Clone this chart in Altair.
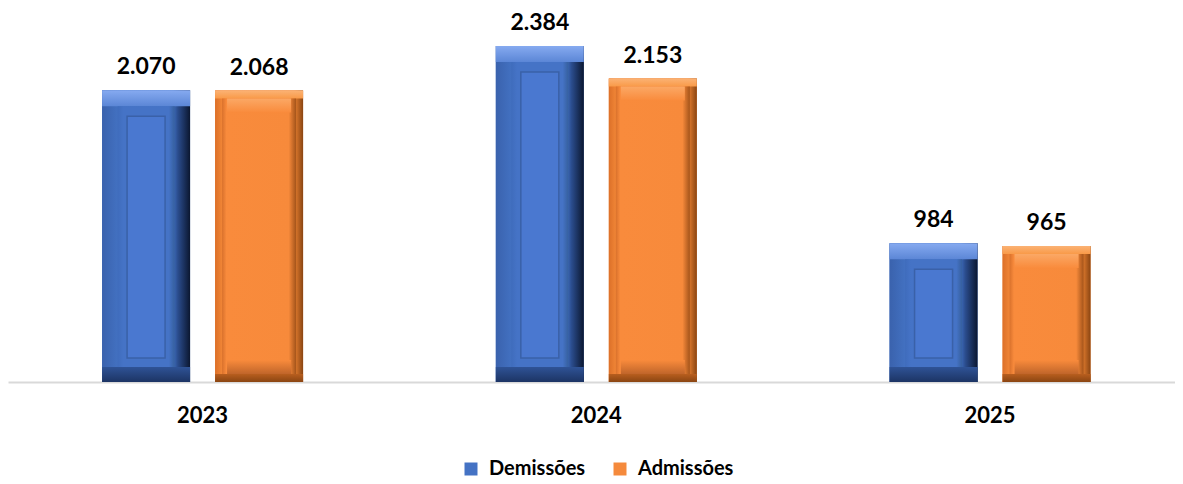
import altair as alt
import pandas as pd

anos = ["2023", "2024", "2025"]
series = ["Demissões", "Admissões"]
demissoes = [2070, 2384, 984]
admissoes = [2068, 2153, 965]

rows = []
for ano, d, a in zip(anos, demissoes, admissoes):
    rows.append({"ano": ano, "serie": series[0], "valor": d})
    rows.append({"ano": ano, "serie": series[1], "valor": a})
df = pd.DataFrame(rows)
df["zero"] = 0
df["rotulo"] = df["valor"].map(lambda v: f"{v:,}".replace(",", "."))

FONT = "Lato"


def grad(stops, vertical=False):
    return alt.LinearGradient(
        gradient="linear",
        stops=[alt.GradientStop(color=c, offset=o) for o, c in stops],
        x1=0, y1=0, x2=0 if vertical else 1, y2=1 if vertical else 0,
    )


X = alt.X(
    "ano:N",
    sort=anos,
    title=None,
    scale=alt.Scale(paddingInner=0.4895, paddingOuter=0.2267, align=0.527),
    axis=alt.Axis(
        labelAngle=0, ticks=False, tickSize=0, labelPadding=33,
        labelBaseline="middle", labelFont=FONT, labelFontSize=22,
        labelFontWeight="bold", labelColor="#000000",
        domainColor="#d9d9d9", domainWidth=2, grid=False,
    ),
)
XO = alt.XOffset("serie:N", sort=series,
                 scale=alt.Scale(domain=series, paddingInner=0.2212, paddingOuter=0))
YSC = alt.Scale(domain=[0, 2654], nice=False, zero=True)
Y = alt.Y("valor:Q", scale=YSC, axis=None)
Y0 = alt.Y("zero:Q", scale=YSC, axis=None)

base = alt.Chart(df)

layers = []
# base layer carrying the legend
layers.append(
    base.mark_bar().encode(
        x=X, xOffset=XO, y=Y, y2=alt.Y2("zero"),
        color=alt.Color(
            "serie:N",
            scale=alt.Scale(domain=series, range=["#4472C4", "#F58A3C"]),
            legend=alt.Legend(
                title=None, orient="none", legendX=453, legendY=451,
                direction="horizontal", symbolType="square", symbolSize=169,
                symbolStrokeWidth=0, labelFont=FONT, labelFontSize=20,
                labelFontWeight="bold", labelColor="#000000", labelOffset=8,
                columnPadding=24,
            ),
        ),
    )
)


def lay(serie, kind="full", **mk):
    c = base.transform_filter(alt.datum.serie == serie).mark_bar(**mk)
    if kind == "top":
        return c.encode(x=X, xOffset=XO, y=Y, y2=alt.Y2("valor"))
    if kind == "bottom":
        return c.encode(x=X, xOffset=XO, y=Y0, y2=alt.Y2("zero"))
    return c.encode(x=X, xOffset=XO, y=Y, y2=alt.Y2("zero"))


D, A = series
# ---- Demissões (blue) bevel ----
layers.append(lay(D, color=grad([(0, "#3a62ad"), (0.17, "#4270c0"), (0.8, "#4070c2"),
                                 (0.86, "#2b4d8e"), (1, "#0b1730")])))
layers.append(lay(D, "top", y2Offset=16,
                  color=grad([(0, "#86aaf0"), (1, "#5b86d6")], vertical=True)))
layers.append(lay(D, "bottom", yOffset=-15,
                  color=grad([(0, "#2f5396"), (1, "#1c3464")], vertical=True)))
layers.append(lay(D, width=57, xOffset=0.5, yOffset=16, y2Offset=-15,
                  color=grad([(0, "#3f6cbc"), (0.1, "#4573c6"), (0.9, "#4573c6"),
                              (1, "#36609f")])))
layers.append(lay(D, width=38, yOffset=26, y2Offset=-24, color="#4a78d0",
                  stroke="#3a61a8", strokeWidth=1.5))

# ---- Admissões (orange) bevel ----
layers.append(lay(A, color=grad([(0, "#dc7029"), (0.08, "#f08536"), (0.9, "#e88031"),
                                 (1, "#8a4512")])))
layers.append(lay(A, "top", y2Offset=8,
                  color=grad([(0, "#fbb274"), (1, "#f99a48")], vertical=True)))
layers.append(lay(A, "bottom", yOffset=-8,
                  color=grad([(0, "#b85e1e"), (1, "#8a4512")], vertical=True)))
layers.append(lay(A, width=74, yOffset=8, y2Offset=-8,
                  color=grad([(0, "#d9712c"), (0.06, "#f98b3c"), (0.9, "#f78a3b"),
                              (1, "#a4541a")])))
layers.append(lay(A, "top", width=64, yOffset=8, y2Offset=22,
                  color=grad([(0, "#fba865"), (1, "#f98b3c")], vertical=True)))
layers.append(lay(A, "bottom", width=64, yOffset=-22, y2Offset=-8,
                  color=grad([(0, "#f98b3c"), (1, "#c0652a")], vertical=True)))

# value labels
layers.append(
    base.mark_text(font=FONT, fontSize=23, fontWeight="bold", color="#000000",
                   baseline="alphabetic", dy=-16).encode(
        x=X, xOffset=XO, y=Y, text="rotulo:N")
)

chart = alt.layer(*layers).properties(
    width=1167, height=374, padding=0, background="white"
).configure_view(stroke=None)

chart.save("out.html", embed_options={"renderer": "svg", "actions": False})
